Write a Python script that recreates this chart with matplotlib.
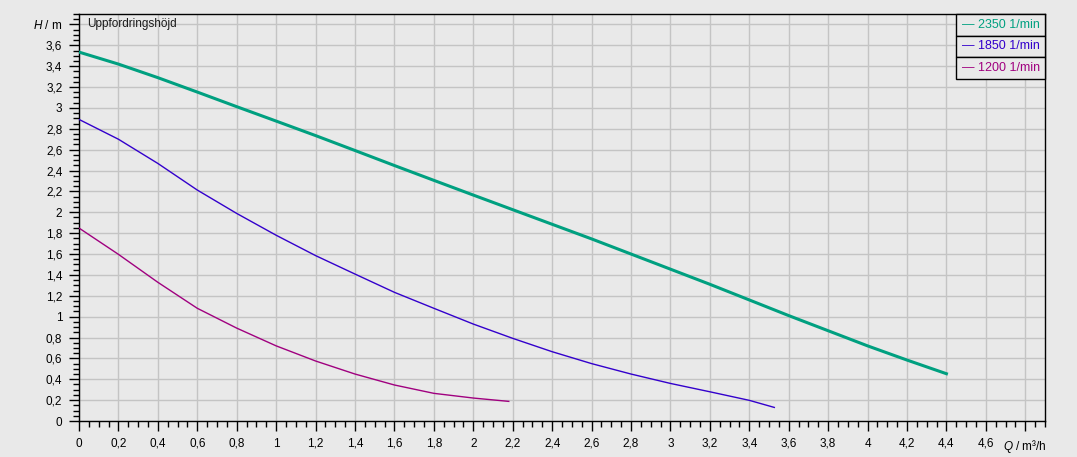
import matplotlib
matplotlib.use('Agg')
import matplotlib.pyplot as plt
from matplotlib.ticker import MultipleLocator, FixedLocator, FuncFormatter

plt.rcParams['font.family'] = ['Liberation Sans', 'DejaVu Sans']
plt.rcParams['mathtext.fontset'] = 'custom'
plt.rcParams['mathtext.it'] = 'Liberation Sans:italic'
plt.rcParams['mathtext.rm'] = 'Liberation Sans'

# pump curves (Q in m3/h, H in m)
q_2350 = [0.0, 0.2, 0.4, 0.6, 0.8, 1.0, 1.2, 1.4, 1.6, 1.8, 2.0, 2.2, 2.4,
          2.6, 2.8, 3.0, 3.2, 3.4, 3.6, 3.8, 4.0, 4.2, 4.4]
h_2350 = [3.535, 3.42, 3.29, 3.152, 3.012, 2.874, 2.735, 2.592, 2.448, 2.306, 2.165, 2.025, 1.885,
          1.745, 1.60, 1.455, 1.31, 1.16, 1.01, 0.865, 0.72, 0.584, 0.453]

q_1850 = [0.0, 0.2, 0.4, 0.6, 0.8, 1.0, 1.2, 1.4, 1.6, 1.8, 2.0, 2.2, 2.4,
          2.6, 2.8, 3.0, 3.2, 3.4, 3.527]
h_1850 = [2.89, 2.70, 2.468, 2.213, 1.989, 1.78, 1.585, 1.408, 1.233, 1.08, 0.929, 0.792, 0.664,
          0.55, 0.45, 0.36, 0.28, 0.198, 0.13]

q_1200 = [0.0, 0.2, 0.4, 0.6, 0.8, 1.0, 1.2, 1.4, 1.6, 1.8, 2.0, 2.18]
h_1200 = [1.849, 1.597, 1.329, 1.08, 0.89, 0.72, 0.575, 0.45, 0.345, 0.265, 0.22, 0.188]

series = [('2350 1/min', q_2350, h_2350, '#00a080', 2.2),
          ('1850 1/min', q_1850, h_1850, '#3300cc', 1.0),
          ('1200 1/min', q_1200, h_1200, '#a0007f', 1.0)]

bg = '#e9e9e9'
fig = plt.figure(figsize=(10.77, 4.57), dpi=100, facecolor=bg)
ax = fig.add_axes([79/1077, 36/457, (1045-79)/1077, (421-14)/457])
ax.set_facecolor(bg)

for name, q, h, col, lw in series:
    ax.plot(q, h, color=col, lw=lw, zorder=3)

ax.set_xlim(0, 4.9)
ax.set_ylim(0, 3.9)

xt = [round(i * 0.2, 1) for i in range(25)]
yt = [round(i * 0.2, 1) for i in range(20)]
ax.xaxis.set_major_locator(FixedLocator(xt))
ax.yaxis.set_major_locator(FixedLocator(yt))
ax.xaxis.set_minor_locator(MultipleLocator(0.05))
ax.yaxis.set_minor_locator(MultipleLocator(0.05))

def fmt_x(v, pos):
    if abs(v - 4.8) < 1e-6:
        return r'$Q$ / m³/h'
    return ('%g' % v).replace('.', ',')

def fmt_y(v, pos):
    if abs(v - 3.8) < 1e-6:
        return r'$H$ / m'
    return ('%g' % v).replace('.', ',')

ax.xaxis.set_major_formatter(FuncFormatter(fmt_x))
ax.yaxis.set_major_formatter(FuncFormatter(fmt_y))
ax.tick_params(which='major', length=7, width=1, labelsize=8.5, pad=5, color='black')
ax.tick_params(which='minor', length=4, width=1, color='black')

ax.grid(True, which='major', color='#c4c4c4', lw=1, zorder=0)
ax.grid(False, which='minor')
ax.set_axisbelow(True)
for s in ax.spines.values():
    s.set_color('black')
    s.set_linewidth(1)

ax.text(0.04, 3.8, 'Uppfordringshöjd', fontsize=8.5, va='center', ha='left', color='#1a1a1a')

# legend as a boxed table in the upper right corner
x0, x1 = (956-79)/966, 1.0
row_h = (65/407) / 3
for i, (name, q, h, col, lw) in enumerate(series):
    ytop = 1.0 - i * row_h
    ax.add_patch(plt.Rectangle((x0, ytop - row_h), x1 - x0, row_h, transform=ax.transAxes,
                               facecolor=bg, edgecolor='black', lw=1, zorder=5, clip_on=False))
    ax.text(x0 + 0.006, ytop - row_h / 2, '\u2014 ' + name, transform=ax.transAxes,
            color=col, fontsize=9, va='center', ha='left', zorder=6)

fig.savefig('out.png', dpi=100, facecolor=bg)
